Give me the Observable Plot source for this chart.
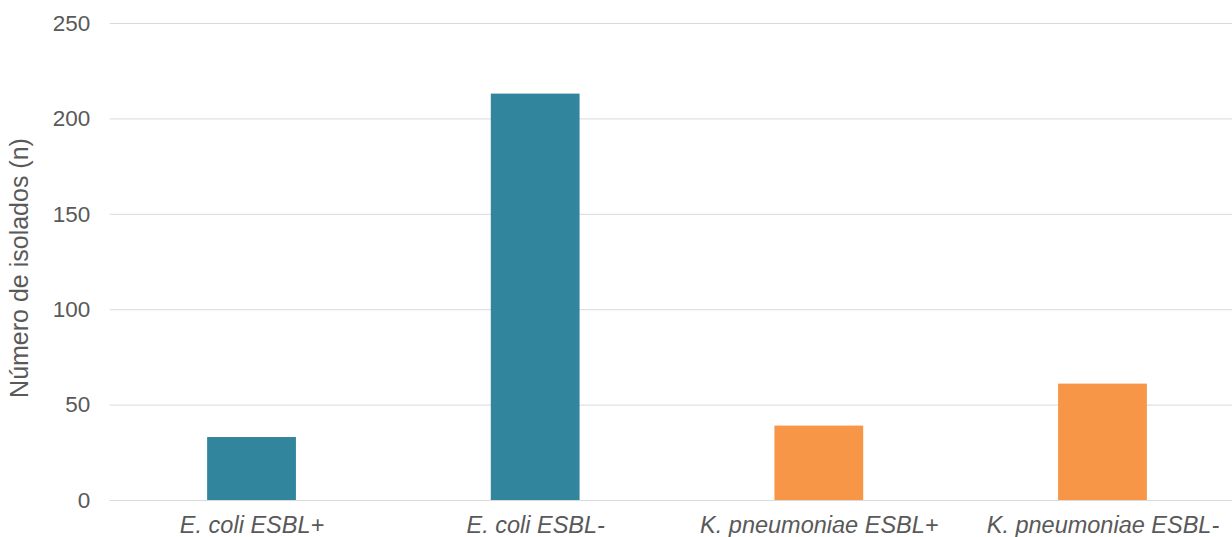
<!DOCTYPE html>
<html>
<head>
<meta charset="utf-8">
<script src="https://cdn.jsdelivr.net/npm/d3@7"></script>
<script src="https://cdn.jsdelivr.net/npm/@observablehq/plot@0.6"></script>
<style>
  html, body { margin: 0; padding: 0; background: #fff; overflow: hidden; }
  #chart svg { display: block; }
</style>
</head>
<body>
<div id="chart"></div>
<script>
// Isolate counts by organism and ESBL status
const categories = ["E. coli ESBL+", "E. coli ESBL-", "K. pneumoniae ESBL+", "K. pneumoniae ESBL-"];
const organisms = ["E. coli", "E. coli", "K. pneumoniae", "K. pneumoniae"];
const counts = [33, 213, 39, 61];
const yTicks = [0, 50, 100, 150, 200, 250];
const organismNames = ["E. coli", "K. pneumoniae"];
const organismColors = ["#31859c", "#f79646"];
const yTitle = "Número de isolados (n)";

const rows = categories.map((c, i) => ({category: c, organism: organisms[i], n: counts[i]}));

const W = 1232, H = 537;
const left = 109.7;
const step = (1244.3 - left) / categories.length;

const chart = Plot.plot({
  width: W,
  height: H,
  marginTop: 23,
  marginBottom: 37,
  marginLeft: left,
  marginRight: 0,
  style: {fontFamily: "Arial, 'Liberation Sans', sans-serif", color: "#595959", background: "#fff"},
  x: {domain: categories, range: [left, left + step * categories.length], paddingInner: 0.687, paddingOuter: 0.3435, round: false, axis: null},
  y: {domain: [0, 250], axis: null},
  color: {domain: organismNames, range: organismColors},
  marks: [
    Plot.ruleY(yTicks, {stroke: "#d9d9d9", strokeWidth: 1}),
    Plot.barY(rows, {x: "category", y: "n", fill: "organism"}),
    Plot.axisY(yTicks, {tickSize: 0, tickPadding: 20, fontSize: 22.5, fill: "#595959", label: null}),
    Plot.axisX({tickSize: 0, tickPadding: 16, fontSize: 23.5, fontStyle: "italic", fill: "#595959", label: null}),
    Plot.text([yTitle], {
      frameAnchor: "left", text: d => d, rotate: -90, textAnchor: "middle",
      dx: -(left - 19), dy: 6, fontSize: 25, fill: "#595959"
    })
  ]
});

document.getElementById("chart").appendChild(chart);
</script>
</body>
</html>
